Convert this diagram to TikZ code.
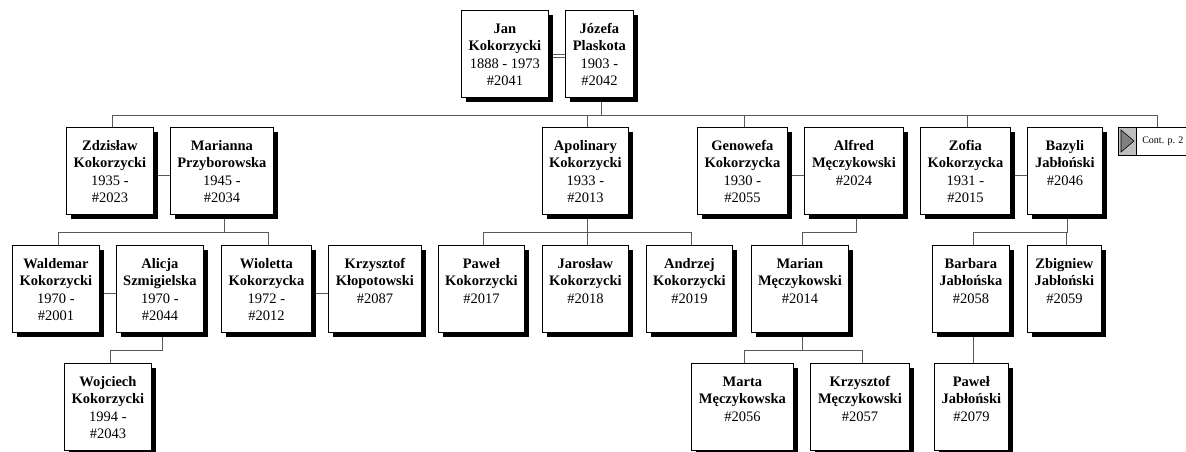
\documentclass[tikz,border=0pt]{standalone}
\usepackage{fontspec}
\setmainfont{Liberation Serif}
\usetikzlibrary{shadows,backgrounds}

\newcommand{\card}[3]{\parbox[c][87pt][t]{#1pt}{\centering\rule{0pt}{23pt}\textbf{#2}\\#3}}

\tikzset{
    member/.style={draw, fill=white, line width=0.8pt, inner sep=0pt, anchor=north west,
        font=\fontsize{14.5}{17.5}\selectfont,
        drop shadow={shadow xshift=5pt, shadow yshift=-5pt, opacity=1, fill=black}},
    contbox/.style={draw, fill=white, line width=0.6pt, inner sep=0pt, anchor=north west,
        minimum height=28pt, font=\fontsize{10}{12}\selectfont},
    link/.style={draw=black!65, line width=0.9pt},
    couple/.style={draw=black!65, line width=0.9pt, double=white, double distance=2pt}
}

\begin{document}
\begin{tikzpicture}[x=1pt,y=-1pt]
    \useasboundingbox (0,0) rectangle (1186,452);

    % generation 1
    \foreach \n/\l/\w/\a/\b in {
        jan/461/87/{Jan\\Kokorzycki}/{1888 - 1973\\\#2041},
        jozefa/565/68/{Józefa\\Plaskota}/{1903 -\\\#2042}}
        \node[member] (\n) at (\l,10) {\card{\w}{\a}{\b}};

    % generation 2
    \foreach \n/\l/\w/\a/\b in {
        zdzislaw/66/87/{Zdzisław\\Kokorzycki}/{1935 -\\\#2023},
        marianna/170/103/{Marianna\\Przyborowska}/{1945 -\\\#2034},
        apolinary/542/86/{Apolinary\\Kokorzycki}/{1933 -\\\#2013},
        genowefa/697/90/{Genowefa\\Kokorzycka}/{1930 -\\\#2055},
        alfred/804/99/{Alfred\\Męczykowski}/{\#2024},
        zofia/920/90/{Zofia\\Kokorzycka}/{1931 -\\\#2015},
        bazyli/1027/75/{Bazyli\\Jabłoński}/{\#2046}}
        \node[member] (\n) at (\l,127) {\card{\w}{\a}{\b}};

    % generation 3
    \foreach \n/\l/\w/\a/\b in {
        waldemar/12/87/{Waldemar\\Kokorzycki}/{1970 -\\\#2001},
        alicja/116/87/{Alicja\\Szmigielska}/{1970 -\\\#2044},
        wioletta/221/90/{Wioletta\\Kokorzycka}/{1972 -\\\#2012},
        krzysztofk/328/93/{Krzysztof\\Kłopotowski}/{\#2087},
        pawelk/438/86/{Paweł\\Kokorzycki}/{\#2017},
        jaroslaw/542/86/{Jarosław\\Kokorzycki}/{\#2018},
        andrzej/646/86/{Andrzej\\Kokorzycki}/{\#2019},
        marian/751/97/{Marian\\Męczykowski}/{\#2014},
        barbara/932/77/{Barbara\\Jabłońska}/{\#2058},
        zbigniew/1027/74/{Zbigniew\\Jabłoński}/{\#2059}}
        \node[member] (\n) at (\l,245) {\card{\w}{\a}{\b}};

    % generation 4
    \foreach \n/\l/\w/\a/\b in {
        wojciech/64/87/{Wojciech\\Kokorzycki}/{1994 -\\\#2043},
        marta/691/102/{Marta\\Męczykowska}/{\#2056},
        krzysztofm/810/99/{Krzysztof\\Męczykowski}/{\#2057},
        pawelj/934/74/{Paweł\\Jabłoński}/{\#2079}}
        \node[member] (\n) at (\l,363) {\card{\w}{\a}{\b}};

    % continuation
    \node[contbox] (cont) at (1118,127) {\hspace*{24pt}Cont. p. 2\hspace*{8pt}};
    \filldraw[fill=black!25, line width=0.6pt] (cont.north west) rectangle ([xshift=18pt]cont.south west);
    \filldraw[fill=black!50, line width=0.6pt] ([shift={(3,3)}]cont.north west) -- ([shift={(16,14)}]cont.north west)
        -- ([shift={(3,25)}]cont.north west) -- cycle;

    \begin{scope}[on background layer]
        \foreach \p/\kids in {jozefa/{zdzislaw,apolinary,genowefa,zofia}, marianna/{waldemar,wioletta},
            alicja/{wojciech}, apolinary/{pawelk,jaroslaw,andrzej}, alfred/{marian},
            bazyli/{barbara,zbigniew}, marian/{marta,krzysztofm}, barbara/{pawelj}}{
            \draw[link] ([xshift=2.5pt]\p.south) -- ++(0,18) coordinate (bar);
            \foreach \k in \kids
                \draw[link] (bar) -| ([xshift=2.5pt]\k.north);
        }
        \draw[link] ([xshift=2.5pt]jozefa.south) ++(0,18) -| ([xshift=39pt]cont.north west);

        % marriages
        \draw[couple] ([yshift=-2pt]jan.east) -- ([yshift=-2pt]jozefa.west);
        \foreach \a/\b in {zdzislaw/marianna, genowefa/alfred, zofia/bazyli, waldemar/alicja, wioletta/krzysztofk}
            \draw[couple] ([yshift=-3.5pt]\a.east) -- ([yshift=-3.5pt]\b.west);
    \end{scope}
\end{tikzpicture}
\end{document}
